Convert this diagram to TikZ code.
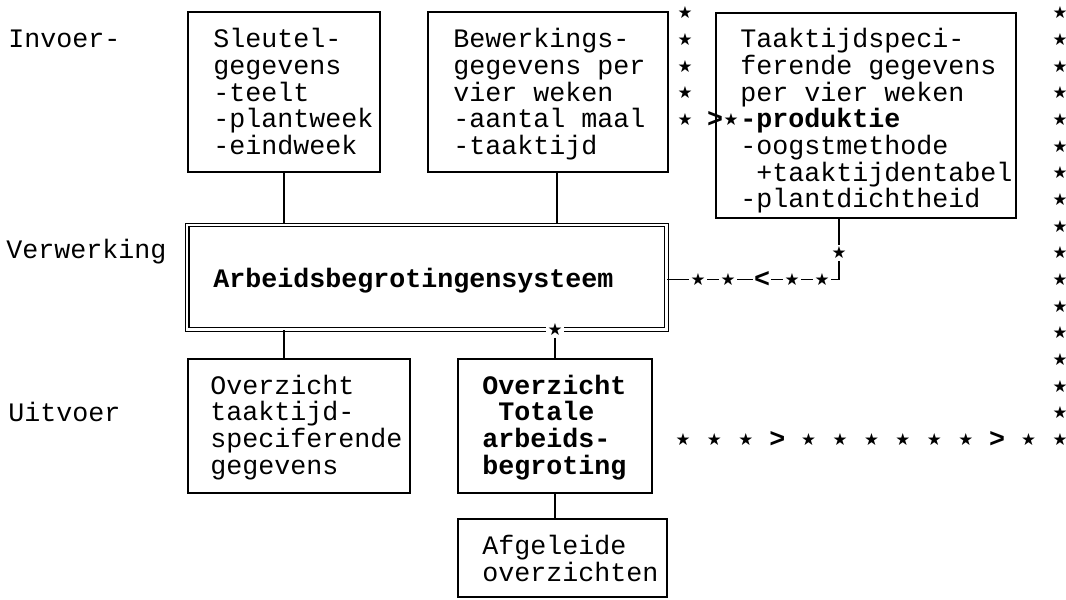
\documentclass[tikz,border=0pt]{standalone}
\usepackage{fontspec}
\setmonofont{Liberation Mono}
\newfontfamily\symfont{DejaVu Sans}

\tikzset{
  blok/.style={draw, line width=1.1pt, inner sep=0pt},
  dubbel/.style={draw, double, double distance=1.65pt, line width=0.9pt, inner sep=0pt},
  tekst/.style={font=\ttfamily\fontsize{20}{20}\selectfont, align=left, inner sep=0pt, anchor=base west},
  vet/.style={tekst, font=\ttfamily\bfseries\fontsize{20}{20}\selectfont},
  ster/.style={font=\symfont\fontsize{12.5}{12.5}\selectfont, inner sep=0.3pt},
  sterwit/.style={ster, fill=white, inner sep=1.2pt},
  pijl/.style={font=\ttfamily\bfseries\fontsize{20}{20}\selectfont, inner sep=0.5pt},
  lijn/.style={line width=1pt},
}

\begin{document}
\begin{tikzpicture}[x=0.75pt, y=-0.75pt]
  \useasboundingbox (0,0) rectangle (1066,599);
  % labels left
  \node[tekst] (invoer) at (8,47.7) {Invoer-};
  \node[tekst] (verwerking) at (6,258) {Verwerking};
  \node[tekst] (uitvoer) at (8,421) {Uitvoer};
  % input boxes (text anchored on its last line)
  \node[blok, minimum width=144pt, minimum height=120pt] (sleutel) at (284,92) {};
  \node[tekst] (sleuteltxt) at (213,154.4) {Sleutel-\\gegevens\\-teelt\\-plantweek\\-eindweek};
  \node[blok, minimum width=180pt, minimum height=120pt] (bewerk) at (548,92) {};
  \node[tekst] (bewerktxt) at (453,154.4) {Bewerkings-\\gegevens per\\vier weken\\-aantal maal\\-taaktijd};
  \node[blok, minimum width=225pt, minimum height=153.75pt] (taak) at (866,115.5) {};
  \node[tekst] (taaktxt) at (740,207.7) {Taaktijdspeci-\\ferende gegevens\\per vier weken\\\textbf{-produktie}\\-oogstmethode\\\hspace*{12pt}+taaktijdentabel\\-plantdichtheid};
  % processing
  \node[dubbel, minimum width=359.4pt, minimum height=78.4pt] (dbl) at (426.9,277.25) {};
  \node[vet] (dbltxt) at (213,287.7) {Arbeidsbegrotingensysteem};
  % output boxes
  \node[blok, minimum width=166.5pt, minimum height=100.5pt] (ovtaak) at (299,426) {};
  \node[tekst] (ovtaaktxt) at (210,474.3) {Overzicht\\taaktijd-\\speciferende\\gegevens};
  \node[blok, minimum width=145.5pt, minimum height=100.5pt] (totaal) at (555,426) {};
  \node[vet] (totaaltxt) at (482,474.3) {Overzicht\\\hspace*{12pt}Totale\\arbeids-\\begroting};
  \node[blok, minimum width=156.75pt, minimum height=58.5pt] (afgeleid) at (562.5,558) {};
  \node[tekst] (afgeleidtxt) at (482,581) {Afgeleide\\overzichten};

  % connections
  \draw[lijn] (sleutel.south) -- (sleutel.south |- dbl.north);
  \draw[lijn] ([xshift=6.75pt]bewerk.south) -- ([xshift=6.75pt]bewerk.south |- dbl.north);
  \draw[lijn] (dbl.south -| sleutel.south) -- (ovtaak.north -| sleutel.south);
  \node[sterwit] (dblster) at (555,330) {★};
  \draw[lijn] (dblster) -- (totaal.north);
  \draw[lijn] (totaal.south) -- (totaal.south |- afgeleid.north);

  % feedback taaktijd -> systeem
  \coordinate (hoek) at (839,279.67);
  \draw[lijn] (taak.south -| hoek) -- (hoek) -- (dbl.east |- hoek);
  \node[sterwit] (tk0) at (839,253) {★};
  \node[sterwit] (tk1) at (822,279.67) {★};
  \node[sterwit] (tk2) at (792,279.67) {★};
  \node[pijl, fill=white] (tk3) at (762,279.67) {<};
  \node[sterwit] (tk4) at (728,279.67) {★};
  \node[sterwit] (tk5) at (698,279.67) {★};

  % star route
  \foreach \j in {0,...,4}
    \node[ster] (lk\j) at (685,{13+26.667*\j}) {★};
  \node[pijl] (invoerpijl) at (715,119.67) {>};
  \node[ster] (invoerster) at (731,119.67) {★};
  \foreach \j in {0,...,15}
    \node[ster] (rk\j) at (1060,{13+26.667*\j}) {★};
  \foreach \k in {0,1,2,4,5,6,7,8,9,11,12}
    \node[ster] (ro\k) at ({683+31.42*\k},439.67) {★};
  \node[pijl] (ro3) at (777.3,439.67) {>};
  \node[pijl] (ro10) at (997.2,439.67) {>};
\end{tikzpicture}
\end{document}
